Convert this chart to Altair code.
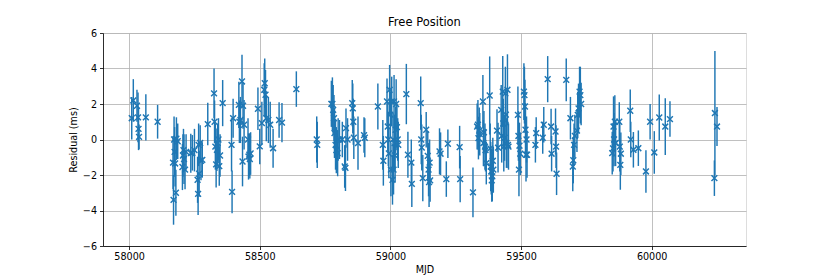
import altair as alt
import pandas as pd

# (MJD, residual ms, error ms)
mjd = [
    58010, 58016, 58030, 58034, 58036, 58038, 58064, 58109,
    58168, 58170, 58172, 58174, 58176, 58179, 58181, 58186,
    58204, 58206, 58208, 58210, 58214, 58218,
    58236, 58242, 58250,
    58262, 58264, 58266, 58268, 58272, 58275, 58280,
    58301, 58325, 58327, 58330, 58333, 58336, 58339, 58342, 58345, 58348, 58358,
    58392, 58394, 58398, 58420, 58422, 58426, 58432, 58434, 58436, 58440, 58455, 58457, 58460, 58462, 58465,
    58493, 58500, 58508, 58517, 58519, 58522, 58525, 58533, 58540, 58551, 58574, 58585, 58640,
    58718, 58720,
    58774, 58778, 58781, 58784, 58786, 58790, 58793, 58798, 58800, 58805, 58816, 58825, 58828, 58830, 58836,
    58854, 58856, 58858, 58860, 58876, 58899, 58902,
    58952, 58971, 58973, 58987, 58990, 58992, 58994, 58997, 59000, 59002, 59005, 59008, 59010, 59012, 59014,
    59016, 59018, 59020, 59022, 59025, 59028, 59030,
    59061, 59067, 59080, 59082,
    59116, 59118, 59120, 59124, 59137, 59143, 59146, 59148, 59150, 59152,
    59188, 59192, 59214, 59220, 59265, 59267, 59316,
    59332, 59335, 59337, 59340, 59342, 59354, 59356, 59358, 59362, 59364, 59367,
    59380, 59382, 59384, 59386, 59388, 59390, 59392, 59394,
    59408, 59412, 59424, 59426, 59430, 59432, 59434, 59437, 59440, 59442, 59444, 59448, 59450, 59452,
    59488, 59490, 59492, 59494, 59497,
    59511, 59513, 59515, 59517, 59519, 59521, 59523,
    59555, 59558, 59583, 59587, 59602, 59615, 59617, 59632, 59634, 59636,
    59673, 59689, 59698, 59700, 59703, 59706, 59714, 59717, 59720, 59724, 59727, 59730,
    59849, 59852, 59854, 59856, 59859, 59862, 59876, 59878, 59880, 59882,
    59918, 59920, 59930, 59949, 59978, 59994, 60010, 60029, 60052, 60070,
    60240, 60242, 60250,
]
residual = [
    1.2, 2.2, 1.9, 1.25, 0.6, 0.15, 1.25, 1.0,
    -1.3, -3.4, 0.0, -0.7, -1.35, -3.0, 0.05, -0.1,
    -1.55, -0.9, -0.6, -1.1, -1.7, -0.7,
    -0.77, -0.75, -0.6,
    -2.27, -3.06, -0.3, -1.93, -0.2, -1.2, -1.15,
    0.87, 2.6, 1.0, -0.4, -1.4, -0.58, -0.2, 0.0, -1.5, -0.9, 2.05,
    -0.3, -2.95, 1.2, 1.95, 1.0, 1.1, 3.27, -1.24, 1.9, 0.83, 0.0, -0.96, -0.85, -1.1, -0.79,
    1.73, -0.39, 0.92, 2.8, 3.17, 2.52, 1.2, 1.1, 0.83, -0.49, 1.1, 0.95, 2.84,
    0.0, -0.3,
    2.01, 2.0, 1.67, 1.2, 0.36, -0.3, -0.6, -0.77, 0.0, 0.0, 0.0, -1.52, -1.6, 0.64, 0.0,
    2.05, 1.75, 1.0, 0.1, -0.2, 0.25, 0.1,
    1.86, -0.3, -1.2, 2.14, 0.73, 0.0, -0.79, 2.8, 1.4, -1.7, 2.14, -2.27, 0.0, -1.7, 2.14,
    -0.2, -0.9, 0.55, 2.0, 0.7, 0.0, -0.3,
    2.56, -0.86, -1.3, -2.5,
    2.05, 0.0, -0.45, -2.18, 0.55, -0.92, -1.7, -2.4, -1.3, -2.3,
    -0.67, -0.8, -2.23, -0.24, -0.43, -2.23, -2.98,
    0.73, 0.83, 0.08, 0.5, 0.3, 2.14, -0.2, 0.4, -0.4, -0.6, -1.33,
    2.48, -0.5, -1.52, -1.8, -2.3, -2.08, -1.2, -1.7,
    0.5, -0.46, 1.67, 0.2, 2.7, 0.9, -0.4, 0.1, 2.6, 1.4, -0.2, 2.8, -0.3, -0.4,
    1.39, 0.2, -1.7, -0.35, -0.8,
    2.7, 2.5, 1.86, 0.55, -0.86, 0.0, -0.86,
    -0.3, 0.36, 0.1, 0.83, 3.4, 0.73, -0.8, 0.45, -0.4, -1.93,
    3.36, 1.2, -1.52, -1.17, -0.3, 0.2, 0.5, 1.39, 1.75, 2.7, 2.5, 2.0,
    -0.77, -0.5, 0.73, 0.0, 1.0, -0.2, 1.0, -0.4, -1.43, -0.8,
    1.62, 0.0, -0.58, -0.49, -1.8, 1.0, -0.73, 1.24, 0.73, 1.15,
    -2.18, 1.49, 0.73,
]
error = [
    1.2, 1.2, 0.9, 1.4, 1.2, 0.7, 1.3, 0.95,
    1.5, 1.4, 1.3, 1.4, 1.3, 1.3, 1.2, 1.0,
    1.3, 1.2, 1.2, 1.4, 1.1, 1.0,
    1.1, 1.0, 1.2,
    1.3, 1.2, 1.2, 1.3, 1.0, 1.1, 1.0,
    1.2, 1.4, 1.2, 1.3, 1.3, 1.2, 1.1, 1.2, 1.1, 1.2, 1.3,
    1.5, 1.2, 1.1, 1.3, 1.2, 1.3, 1.5, 1.4, 1.3, 1.4, 1.2, 1.3, 1.2, 1.1, 1.2,
    1.2, 1.0, 1.2, 1.5, 1.4, 1.4, 1.3, 1.3, 1.3, 1.1, 1.0, 1.1, 1.0,
    1.3, 1.3,
    1.3, 1.5, 1.4, 1.3, 1.4, 1.4, 1.3, 1.3, 1.2, 1.1, 1.0, 1.2, 1.3, 1.1, 1.2,
    1.3, 1.4, 1.3, 1.2, 1.5, 1.0, 1.1,
    1.3, 1.4, 1.4, 1.3, 1.4, 1.5, 1.4, 1.4, 1.3, 1.5, 1.4, 1.4, 1.5, 1.4, 1.5,
    1.6, 1.5, 1.3, 1.4, 1.3, 1.2, 1.3,
    1.7, 1.3, 1.3, 1.3,
    1.5, 1.4, 1.3, 1.3, 1.0, 1.4, 1.5, 1.4, 1.3, 1.2,
    1.3, 1.2, 1.0, 0.8, 1.2, 1.3, 1.4,
    1.3, 1.4, 1.2, 1.3, 1.2, 1.5, 1.3, 1.2, 1.3, 1.2, 1.2,
    2.2, 1.4, 1.4, 1.3, 1.2, 1.4, 1.3, 1.3,
    1.2, 1.4, 1.4, 1.5, 2.0, 1.4, 1.4, 1.3, 1.5, 1.5, 1.4, 2.0, 1.3, 1.3,
    1.6, 1.4, 1.5, 1.3, 1.2,
    1.6, 1.6, 1.5, 1.5, 1.5, 1.3, 1.3,
    1.0, 0.9, 0.9, 1.0, 1.3, 1.0, 1.0, 1.3, 1.2, 1.2,
    1.2, 1.2, 1.4, 1.3, 1.2, 1.2, 1.2, 1.3, 1.4, 1.4, 1.6, 1.2,
    1.2, 1.3, 1.7, 1.5, 1.5, 1.3, 1.1, 1.4, 1.4, 1.2,
    1.2, 1.0, 1.0, 1.0, 1.2, 1.0, 1.2, 1.3, 1.6, 1.0,
    1.0, 3.5, 1.1,
]

x_ticks = [58000, 58500, 59000, 59500, 60000]
y_ticks = [-6, -4, -2, 0, 2, 4, 6]

df = pd.DataFrame({"mjd": mjd, "res": residual, "err": error})
df["lo"] = df["res"] - df["err"]
df["hi"] = df["res"] + df["err"]

BLUE = "#1f77b4"
FONT = "DejaVu Sans"

xscale = alt.Scale(domain=[57900, 60361], nice=False, zero=False)
yscale = alt.Scale(domain=[-6, 6], nice=False)

xaxis = alt.Axis(title="MJD", values=x_ticks, tickCount=20, format="d", grid=True,
                 gridColor="#b0b0b0", gridWidth=0.8, tickColor="black",
                 tickSize=3.5, tickWidth=0.8, domainColor="black", domainWidth=0.8,
                 labelFont=FONT, labelFontSize=9.6, labelColor="black", labelPadding=2,
                 titleFont=FONT, titleFontSize=9.6, titleFontWeight="normal",
                 titleColor="black", titlePadding=3, labelFlush=False)
yaxis = alt.Axis(title="Residual (ms)", values=y_ticks, tickCount=20, format="d", grid=True,
                 gridColor="#b0b0b0", gridWidth=0.8, tickColor="black",
                 tickSize=3.5, tickWidth=0.8, domainColor="black", domainWidth=0.8,
                 labelFont=FONT, labelFontSize=9.6, labelColor="black", labelPadding=3,
                 titleFont=FONT, titleFontSize=9.6, titleFontWeight="normal",
                 titleColor="black", titlePadding=4, labelFlush=False)

base = alt.Chart(df)

bars = base.mark_rule(color=BLUE, strokeWidth=1.45).encode(
    x=alt.X("mjd:Q", scale=xscale, axis=xaxis),
    y=alt.Y("lo:Q", scale=yscale, axis=yaxis),
    y2="hi:Q",
)

pts = base.mark_point(
    shape="M-1,-1L1,1M-1,1L1,-1", filled=False, color=BLUE,
    strokeWidth=1.45, size=34, opacity=1,
).encode(
    x=alt.X("mjd:Q", scale=xscale),
    y=alt.Y("res:Q", scale=yscale),
)

chart = alt.layer(bars, pts).properties(
    width=643, height=213,
    title=alt.TitleParams("Free Position", font=FONT, fontSize=11.5,
                          fontWeight="normal", color="black", anchor="middle",
                          frame="group", offset=0),
    autosize=alt.AutoSizeParams(type="none"),
    padding={"left": 95, "top": 25, "right": 70, "bottom": 30},
).configure_view(stroke="black", strokeWidth=0.8).configure(background="white")

chart.save("out.html", embed_options={"renderer": "svg", "actions": False})
